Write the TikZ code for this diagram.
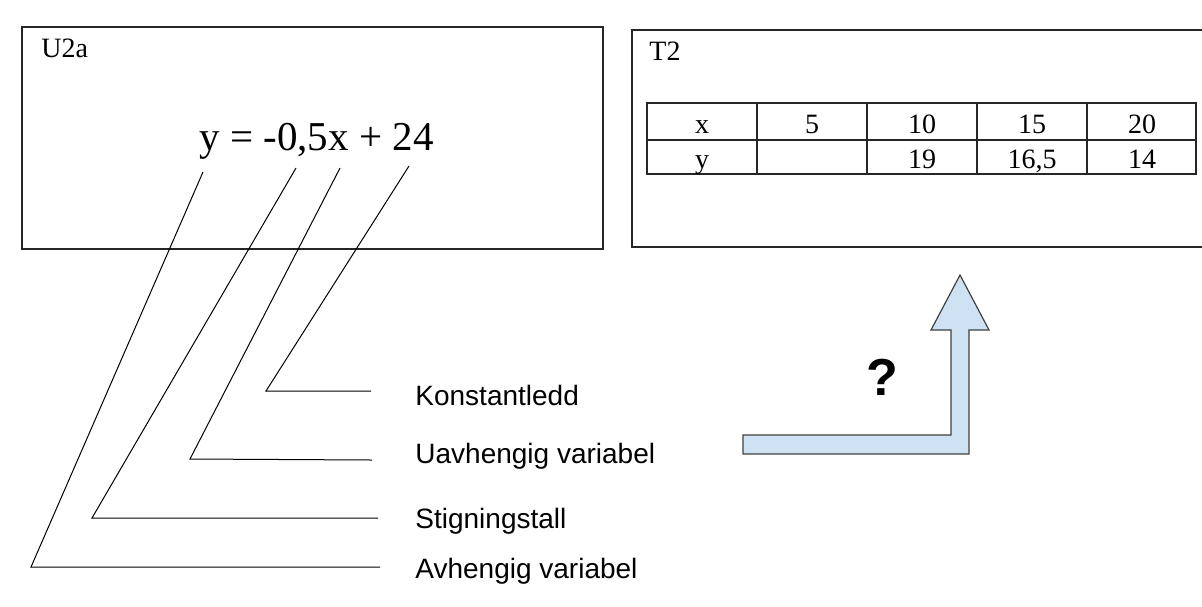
\documentclass[tikz,border=0pt]{standalone}
\usepackage{fontspec}
\setmainfont{Liberation Serif}
\setsansfont{Liberation Sans}
\usetikzlibrary{positioning}
\definecolor{arrowblue}{RGB}{207,226,243}

\begin{document}
\begin{tikzpicture}[
    x=0.5pt, y=-0.5pt,
    % --- STYLES ---
    frame/.style={draw=black!85, line width=0.65pt},
    title/.style={anchor=base west, inner sep=0pt, font=\fontsize{14}{16}\selectfont},
    cell/.style={anchor=base, inner sep=0pt, font=\fontsize{14}{16}\selectfont},
    term/.style={anchor=base west, inner sep=0pt, font=\sffamily\fontsize{14}{16}\selectfont},
    pointer/.style={draw=black, line width=0.5pt},
    bentarrow/.style={draw=black!75, line width=0.6pt, fill=arrowblue, line join=miter}
]
    \useasboundingbox (0,0) rectangle (1202,606);

    % ==========================================
    % U2a (left box)
    % ==========================================
    \draw[frame] (22,27) rectangle (603,249);
    \node[title] (u2a) at (41,57) {U2a};
    \node[anchor=base west, inner sep=0pt, font=\fontsize{20.5}{24}\selectfont] (eq) at (199,150) {y = -0,5x + 24};

    % pointer ends
    \coordinate (depTop) at (203,172);
    \coordinate (depKnee) at (31,567);
    \coordinate (depEnd) at (380,567);
    \coordinate (slopeTop) at (296,168);
    \coordinate (slopeKnee) at (92,518);
    \coordinate (slopeEnd) at (378,518);
    \coordinate (indepTop) at (340,168);
    \coordinate (indepKnee) at (190,459);
    \coordinate (indepEnd) at (372,460);
    \coordinate (constTop) at (409,166);
    \coordinate (constKnee) at (266,391);
    \coordinate (constEnd) at (371,391);

    % Labels
    \node[term] (const) at (415,405) {Konstantledd};
    \node[term] (indep) at (415,463) {Uavhengig variabel};
    \node[term] (slope) at (415,528) {Stigningstall};
    \node[term] (dep) at (415,578) {Avhengig variabel};

    % Pointer lines
    \draw[pointer] (constTop) -- (constKnee) -- (constEnd);
    \draw[pointer] (indepTop) -- (indepKnee) -- (indepEnd);
    \draw[pointer] (slopeTop) -- (slopeKnee) -- (slopeEnd);
    \draw[pointer] (depTop) -- (depKnee) -- (depEnd);

    % ==========================================
    % T2 (right box, open to the right)
    % ==========================================
    \draw[frame] (1202,30) -- (632,30) -- (632,247) -- (1202,247);
    \node[title] (t2) at (649,60) {T2};

    % Table
    \draw[frame] (647,103) rectangle (1196,174);
    \draw[frame] (647,140) -- (1196,140);
    \foreach \cx in {757,867,977,1087}
        \draw[frame] (\cx,103) -- (\cx,174);
    \foreach \val [count=\i from 0] in {x,5,10,15,20}
        \node[cell] (xrow\i) at (702+110*\i,133) {\val};
    \foreach \val [count=\i from 0] in {y,{},19,{16,5},14}
        \node[cell] (yrow\i) at (702+110*\i,168) {\val};

    % ==========================================
    % Bent arrow with question mark
    % ==========================================
    \draw[bentarrow] (743,435) -- (951,435) -- (951,330) -- (931,330) -- (960,275)
        -- (989,330) -- (969,330) -- (969,454) -- (743,454) -- cycle;
    \node[inner sep=0pt, font=\sffamily\bfseries\fontsize{26}{30}\selectfont] (ask) at (882,377) {?};

\end{tikzpicture}
\end{document}
